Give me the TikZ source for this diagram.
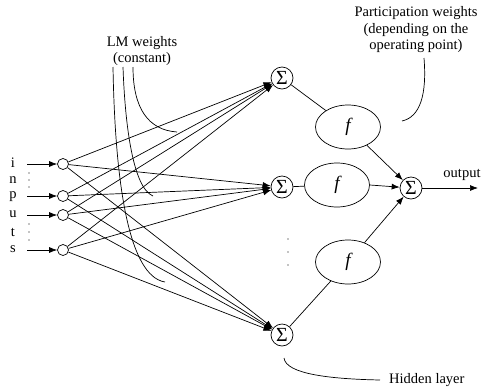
\documentclass[tikz,border=0pt]{standalone}
\usepackage{fontspec}
\setmainfont{Liberation Serif}
\usetikzlibrary{arrows.meta,shapes.geometric}
\begin{document}
\begin{tikzpicture}[x=1pt,y=-1pt,
  every node/.style={font=\fontsize{14.5}{16.5}\selectfont},
  ln/.style={line width=0.7pt},
  arr/.style={ln,-{Latex[length=8pt,width=6pt]}},
  incirc/.style={draw,circle,line width=0.7pt,minimum size=11pt,inner sep=0pt},
  sumcirc/.style={draw,circle,line width=0.7pt,minimum size=22pt,inner sep=0pt,font=\fontsize{20}{20}\selectfont},
  fell/.style={draw,ellipse,line width=0.7pt,minimum width=65pt,minimum height=44pt,inner sep=0pt,font=\fontsize{19}{19}\selectfont\itshape},
  lbl/.style={inner sep=0pt},
  dotm/.style={fill,circle,inner sep=0pt,minimum size=1.4pt}
]
\useasboundingbox (0,0) rectangle (485,389);

% input letters
\node[lbl] (li) at (13,163) {i};
\node[lbl] (ln) at (13,180) {n};
\node[lbl] (lp) at (13,197) {p};
\node[lbl] (lu) at (13,214) {u};
\node[lbl] (lt) at (13,232) {t};
\node[lbl] (ls) at (13,249) {s};

% dots between inputs
\foreach \y [count=\k] in {173,180,187,224,232,240}
  \node[dotm] (d\k) at (29,\y) {};

% input circles
\node[incirc] (i1) at (63,164) {};
\node[incirc] (i2) at (63,196) {};
\node[incirc] (i3) at (63,215) {};
\node[incirc] (i4) at (63,250) {};

% input arrow starts
\coordinate (a1) at (27,164);
\coordinate (a2) at (27,196);
\coordinate (a3) at (27,215);
\coordinate (a4) at (27,250);
\foreach \k in {1,2,3,4}
  \draw[arr] (a\k) -- (i\k);

% sum nodes
\node[sumcirc] (s1) at (282,78) {Σ};
\node[sumcirc] (s2) at (282,187) {Σ};
\node[sumcirc] (s3) at (282,335) {Σ};

% connections inputs -> sums
\foreach \k in {1,2,3,4}
  \foreach \s in {1,2,3}
    \draw[arr] (i\k) -- (s\s);

% hidden dots
\foreach \y [count=\k] in {239,252,265}
  \node[dotm] (h\k) at (288,\y) {};

% f nodes
\node[fell] (f1) at (348,127) {f};
\node[fell] (f2) at (337,185) {f};
\node[fell] (f3) at (348,262) {f};

% output sum
\node[sumcirc] (so) at (411,188) {Σ};

\draw[ln] (s1) -- (f1);
\draw[ln] (s2) -- (f2);
\draw[ln] (s3) -- (f3);
\draw[arr] (f1) -- (so);
\draw[arr] (f2.east) -- (so);
\draw[arr] (f3) -- (so);

\coordinate (oend) at (478,188);
\draw[arr] (so) -- (oend);
\node[lbl] (outl) at (462,175) {output};

% LM weights label and pointers
\node[lbl,align=center] (lm) at (142,51) {LM weights\\(constant)};
\coordinate (c1s) at (133,67);
\coordinate (c1e) at (177,132);
\coordinate (c2s) at (123,67);
\coordinate (c2e) at (153,196);
\coordinate (c3s) at (113,67);
\coordinate (c3e) at (165,282);
\draw[ln] (c1s) .. controls (133,108) and (148,130) .. (c1e);
\draw[ln] (c2s) .. controls (125,125) and (133,188) .. (c2e);
\draw[ln] (c3s) .. controls (115,180) and (128,276) .. (c3e);

% participation weights label and pointer
\node[lbl,align=center] (pw) at (416,30) {Participation weights\\(depending on the\\operating point)};
\coordinate (ps) at (424,58);
\coordinate (pe) at (402,121);
\draw[ln] (ps) .. controls (427,95) and (420,117) .. (pe);

% hidden layer label and pointer
\node[lbl,anchor=west] (hl) at (389,380) {Hidden layer};
\coordinate (hs) at (284,358);
\coordinate (he) at (380,380);
\draw[ln] (hs) .. controls (286,374) and (330,379) .. (he);
\end{tikzpicture}
\end{document}
